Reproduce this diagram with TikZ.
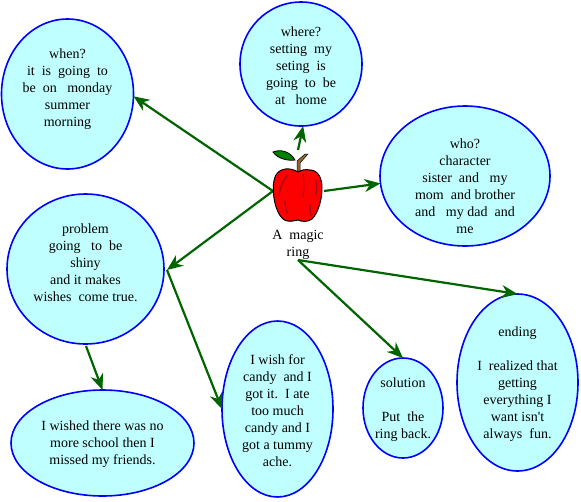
\documentclass[tikz,border=0pt]{standalone}
\usepackage{fontspec}
\setmainfont{Liberation Serif}
\usetikzlibrary{shapes.geometric}
\usetikzlibrary{arrows.meta}
\newcommand{\topline}{\rule{0pt}{13pt}}

\begin{document}
\begin{tikzpicture}[x=1pt, y=-1pt,
    main/.style = {draw=blue, fill=bubble, ellipse, line width=1.6pt, inner sep=-14pt, outer sep=0pt, align=center, font=\fontsize{14}{17}\selectfont},
    link/.style = {draw=linkgreen, line width=2.2pt, -{Stealth[length=16pt,width=13pt]}},
    plain/.style = {align=center, font=\fontsize{14}{17}\selectfont}]
    \definecolor{bubble}{RGB}{192,255,255}
    \definecolor{linkgreen}{RGB}{0,100,0}
    \definecolor{stripe}{RGB}{170,10,20}
    \useasboundingbox (0,0) rectangle (581,501);
    \node[main, minimum width=132pt, minimum height=150pt] (when) at (67.5,94) {\topline when?\\it~~is~~going~~to\\be~~on~~~monday\\summer\\morning\\~};
    \node[main, minimum width=122pt, minimum height=124pt] (where) at (301,64) {\topline where?\\setting~~my\\seting~~is\\going~~to~~be\\at~~~home};
    \node[main, minimum width=170pt, minimum height=140pt] (who) at (465,176) {\topline~\\who?\\character\\sister~~and~~~my\\mom~~and brother\\and~~~my dad~~and\\me};
    \node[main, minimum width=157pt, minimum height=150pt] (problem) at (85.5,269) {\topline problem\\going~~~to~~be\\shiny\\and it makes\\wishes~~come true.\\~};
    \node[main, minimum width=183pt, minimum height=106pt] (wished) at (102.5,443) {\topline I wished there was no\\more school then I\\missed my friends.};
    \node[main, minimum width=111pt, minimum height=176pt] (wish) at (277.5,409) {\topline I wish for\\candy~~and I\\got it.~~I ate\\too much\\candy and I\\got a tummy\\ache.};
    \node[main, minimum width=80pt, minimum height=100pt] (solution) at (403,408) {\topline solution\\~\\Put~~the\\ring back.};
    \node[main, minimum width=121pt, minimum height=177pt] (ending) at (517.5,382.5) {\topline ending\\~\\I~~realized that\\getting\\everything I\\want isn\textquotesingle t\\always~~fun.};
    \node[plain] (ring) at (298,245) {A~~magic\\ring};
    \node[minimum width=49pt, minimum height=53pt, inner sep=0pt] (apple) at (297.5,195.5) {};
    \coordinate (applewest) at (273,191);
    \coordinate (appletop) at (298,150);
    \coordinate (appleeast) at (324,191);
    \coordinate (ringfoot) at (298,260);
    \coordinate (fork) at (167,270);
    \coordinate (problemfoot) at (86,346);
    \draw[link] (applewest) -- (when.-2);
    \draw[link] (applewest) -- (fork);
    \draw[link] (fork) -- (wish.west);
    \draw[link] (problemfoot) -- (wished.north);
    \draw[link] (appletop) -- (where.-88);
    \draw[link] (appleeast) -- (who.185);
    \draw[link] (ringfoot) -- (solution.north);
    \draw[link] (ringfoot) -- (ending.north);
    \fill[red, draw=black, line width=1pt] (298,172) .. controls (290,167) and (280,168) .. (276,175) .. controls (272,182) and (273,195) .. (275,203) .. controls (277,212) and (282,221) .. (288,221) .. controls (292,222) and (295,220) .. (298,220) .. controls (302,222) and (308,222) .. (312,219) .. controls (318,213) and (322,200) .. (322,188) .. controls (322,178) and (318,170) .. (310,170) .. controls (306,169) and (301,170) .. (298,172) -- cycle;
    \draw[stripe, line width=1.4pt] (288,175) .. controls (283,180) and (280,188) .. (279,196);
    \draw[stripe, line width=1.4pt] (285,200) .. controls (285,205) and (286,210) .. (288,214);
    \draw[stripe, line width=1.4pt] (303,174) .. controls (304,182) and (304,190) .. (303,197);
    \draw[stripe, line width=1.4pt] (310,204) .. controls (310,208) and (310,212) .. (311,216);
    \draw[stripe, line width=1.4pt] (316,180) .. controls (317,186) and (317,190) .. (316,195);
    \fill[green!50!black, draw=black, line width=0.8pt] (273,152) .. controls (280,149) and (290,151) .. (295,160) .. controls (288,161) and (278,159) .. (273,152) -- cycle;
    \fill[brown!80!black, draw=black, line width=0.5pt] (297,171) -- (297,161) -- (305,154) -- (308,154) -- (300,163) -- (300,171) -- cycle;
\end{tikzpicture}
\end{document}
